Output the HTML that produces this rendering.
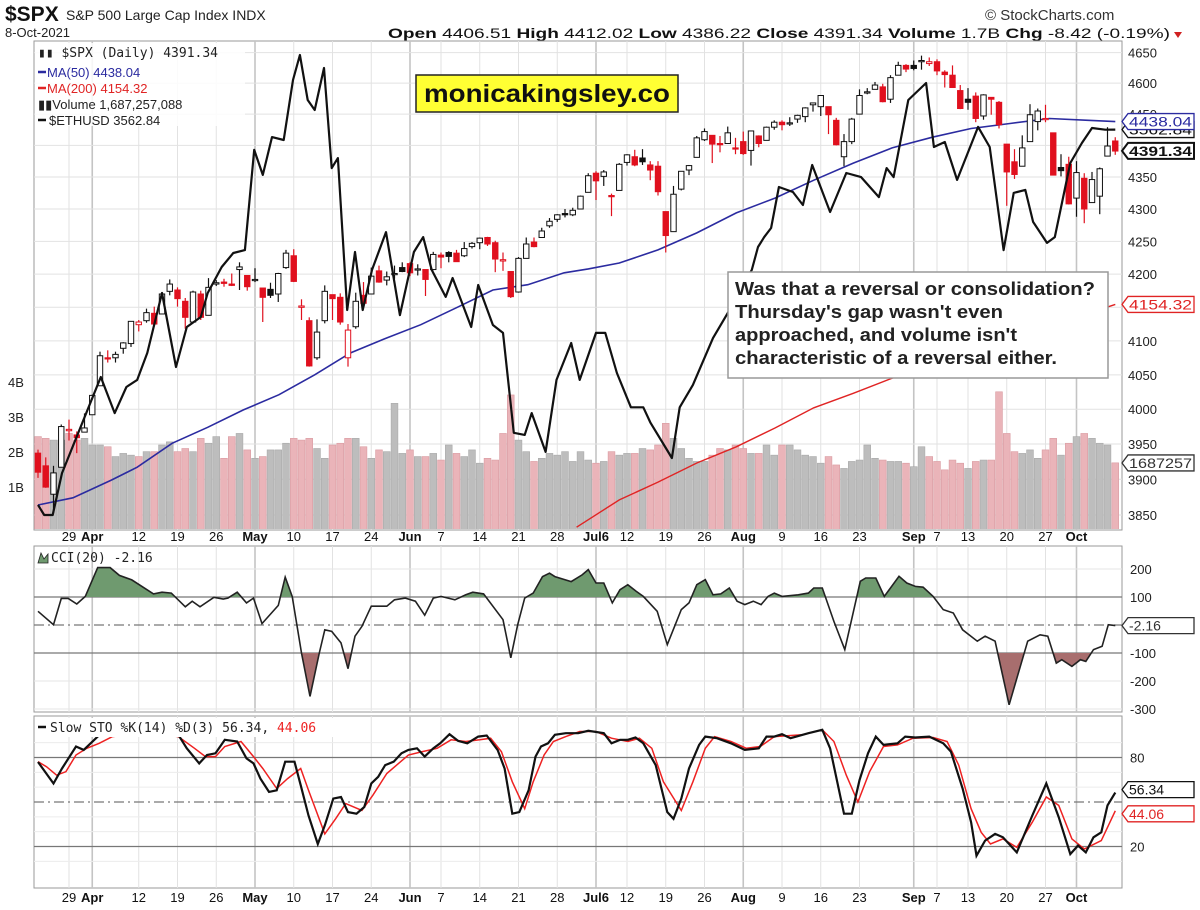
<!DOCTYPE html>
<html><head><meta charset="utf-8">
<style>
html,body{margin:0;padding:0;background:#fff;}
svg{display:block;font-family:"Liberation Sans",Arial,sans-serif;}
</style></head>
<body>
<svg id="chart" width="1200" height="910" viewBox="0 0 1200 910" xmlns="http://www.w3.org/2000/svg">
  <rect x="0" y="0" width="1200" height="910" fill="#fff"/>
  <defs>
    <clipPath id="clipMain"><rect x="34" y="42" width="1087" height="487"/></clipPath>
    <clipPath id="clipCci"><rect x="34" y="547" width="1087" height="164"/></clipPath>
    <clipPath id="clipSto"><rect x="34" y="717" width="1087" height="170"/></clipPath>
    <clipPath id="clipCciUp"><rect x="34" y="547" width="1087" height="50"/></clipPath>
    <clipPath id="clipCciDn"><rect x="34" y="653" width="1087" height="60"/></clipPath>
  </defs>
  <g id="header">
    <text x="5" y="21" font-size="21" font-weight="bold" fill="#111">$SPX</text>
    <text x="66" y="20" font-size="14" fill="#222">S&amp;P 500 Large Cap Index INDX</text>
    <text x="5" y="37" font-size="13" fill="#222">8-Oct-2021</text>
    <text x="388" y="38" font-size="14" fill="#111" textLength="782" lengthAdjust="spacingAndGlyphs"><tspan font-weight="bold">Open</tspan> 4406.51 <tspan font-weight="bold">High</tspan> 4412.02 <tspan font-weight="bold">Low</tspan> 4386.22 <tspan font-weight="bold">Close</tspan> 4391.34 <tspan font-weight="bold">Volume</tspan> 1.7B <tspan font-weight="bold">Chg</tspan> -8.42 (-0.19%)</text>
    <polygon points="1174,32 1182,32 1178,38" fill="#d02020"/>
    <text x="985" y="20" font-size="15" fill="#333">© StockCharts.com</text>
  </g>
  <g id="grid"></g>
  <g id="mainG" clip-path="url(#clipMain)"></g>
  <g id="cciG"></g>
  <g id="stoG"></g>
  <g id="overlay"></g>
</svg>
<script>
// ---------- DATA ----------
const closes = [3910,3889,3909,3975,3971,3959,3973,4020,4078,4074,4080,4097,4129,4128,4142,4125,4170,4185,4163,4135,4173,4135,4180,4187,4186,4183,4211,4181,
4192,4165,4168,4201,4232,4189,4152,4063,4113,4174,4163,4128,4116,4159,4156,4197,4188,4196,4201,4204,
4202,4208,4192,4230,4226,4227,4219,4239,4247,4255,4246,4223,4222,4166,4224,4246,4242,4266,4281,4291,4291,4298,
4320,4352,4344,4358,4320,4370,4385,4369,4374,4361,4327,4259,4323,4359,4368,4412,4422,4402,4401,4420,4395,
4387,4423,4403,4429,4437,4433,4436,4448,4460,4468,4480,4449,4401,4406,4442,4480,4486,4497,4470,4509,4529,4523,
4524,4537,4535,4520,4514,4493,4459,4469,4443,4481,4474,4433,4358,4354,4396,4449,4455,4443,4353,4360,4308,4357,4300,4346,4363,4399,4391];
const opens = [3937,3919,3879,3917,3969,3963,3967,3992,4034,4075,4075,4089,4096,4124,4130,4141,4140,4174,4176,4159,4128,4170,4138,4185,4188,4185,4207,4198,
4192,4179,4177,4170,4210,4228,4150,4130,4075,4130,4169,4165,4075,4121,4168,4170,4205,4191,4201,4210,
4216,4207,4207,4207,4229,4233,4232,4228,4242,4248,4256,4248,4220,4204,4173,4224,4249,4256,4274,4284,4293,4291,
4300,4326,4356,4351,4321,4329,4373,4382,4380,4369,4367,4296,4265,4331,4361,4381,4409,4416,4403,4403,4396,
4406,4392,4415,4408,4429,4437,4435,4442,4446,4465,4462,4462,4440,4382,4406,4450,4484,4490,4494,4474,4513,4529,
4529,4535,4532,4535,4518,4513,4488,4474,4479,4447,4477,4469,4402,4374,4367,4406,4438,4442,4420,4365,4370,4317,4348,4310,4320,4383,4407];
const highs = [3942,3931,3919,3978,3985,3968,3994,4021,4084,4086,4084,4098,4129,4131,4148,4151,4173,4192,4180,4164,4175,4175,4194,4191,4193,4201,4218,4198,
4209,4179,4187,4202,4237,4238,4162,4135,4132,4183,4169,4171,4125,4172,4188,4210,4213,4204,4213,4218,
4218,4215,4207,4234,4233,4235,4237,4249,4249,4256,4257,4251,4233,4204,4226,4256,4256,4271,4286,4292,4300,4302,
4321,4356,4359,4361,4324,4372,4386,4393,4394,4375,4375,4296,4336,4359,4369,4415,4427,4416,4415,4430,4412,
4422,4423,4416,4430,4440,4440,4445,4449,4461,4468,4480,4462,4444,4418,4444,4490,4492,4502,4499,4513,4535,4531,
4537,4545,4542,4539,4521,4529,4497,4492,4485,4482,4477,4471,4402,4394,4416,4466,4459,4465,4420,4386,4382,4375,4356,4358,4365,4429,4413];
const lows = [3902,3888,3853,3917,3955,3937,3967,3992,4034,4068,4068,4081,4091,4114,4127,4123,4140,4168,4151,4118,4128,4131,4138,4182,4181,4182,4176,4175,
4188,4128,4164,4158,4208,4188,4131,4062,4072,4126,4131,4124,4062,4118,4152,4170,4187,4183,4193,4203,
4197,4198,4167,4206,4209,4218,4219,4226,4239,4238,4243,4203,4205,4164,4172,4224,4241,4256,4271,4280,4287,4289,
4300,4326,4314,4336,4289,4329,4368,4367,4369,4345,4321,4233,4265,4329,4353,4381,4407,4372,4389,4403,4386,
4385,4368,4397,4408,4425,4424,4431,4436,4437,4454,4447,4418,4400,4367,4402,4450,4482,4490,4469,4468,4513,4518,
4521,4522,4528,4513,4493,4493,4458,4457,4437,4441,4449,4427,4305,4347,4367,4406,4424,4437,4353,4351,4307,4288,4278,4310,4292,4383,4385];
const prevClose = 3940;
const volumesB = [2.44,2.39,2.34,2.34,2.53,2.34,2.39,2.20,2.20,2.15,
1.87,1.96,1.91,1.87,2.01,2.01,2.20,2.29,2.01,2.10,
2.01,2.39,2.25,2.44,1.82,2.44,2.53,2.06,1.82,1.87,
2.06,2.06,2.25,2.39,2.34,2.39,2.10,1.82,2.20,2.25,
2.39,2.39,2.15,1.82,2.06,2.01,3.39,1.96,2.06,1.87,
1.87,1.96,1.77,2.20,1.96,1.87,2.06,1.68,1.82,1.77,
2.53,3.63,2.34,2.01,1.73,1.82,1.96,1.91,2.01,1.73,
2.01,1.77,1.68,1.73,2.01,1.91,1.96,1.96,2.10,2.06,
2.20,2.82,2.39,2.10,1.82,1.73,1.73,1.91,2.10,2.06,
2.20,2.10,1.96,1.96,2.20,1.91,2.20,2.20,2.06,1.91,
1.87,1.68,1.87,1.63,1.53,1.73,1.77,2.20,1.82,1.77,
1.73,1.73,1.68,1.58,2.15,1.87,1.73,1.49,1.77,1.68,
1.53,1.73,1.77,1.77,3.72,2.53,2.01,1.96,2.06,1.82,
2.06,2.39,1.91,2.25,2.44,2.53,2.39,2.25,2.20,1.69];
const ma50Idx = [0,4.5,9.5,12.8,17.3,21.9,26.5,31.1,35.7,40.3,44.9,49.4,54.1,58.7,63.2,67.9,71,75,80,85,90.1,95.1,100.1,105.2,110.2,115.4,120.4,125.4,130.5,135.5,139];
const ma50Val = [3864,3874,3899,3917,3951,3974,3999,4021,4050,4082,4104,4124,4150,4176,4184,4202,4208,4217,4237,4263,4294,4317,4345,4372,4396,4413,4427,4435,4443,4440,4438.04];
const ma200Idx = [69.5,75,80,85,90.1,95.1,100.1,105.2,110.2,139];
const ma200Val = [3833,3871,3896,3923,3946,3973,4002,4023,4045,4154.32];
const ethIdx = [0,0.8,1.9,3.1,8.1,9.9,11.4,12.8,14.1,16.0,17.8,19.2,21.0,21.9,23.7,25.2,26.7,27.9,29.0,30.2,31.7,32.9,33.8,34.8,35.7,36.9,37.9,38.7,39.9,40.9,41.9,43.1,44.9,46.7,48.5,49.7,50.8,52.6,53.5,55.9,56.8,58.7,60.0,61.4,62.8,63.7,65.5,66.9,68.8,69.9,72.0,73.2,74.7,76.5,78.1,79.0,81.8,82.8,84.5,87.1,89.0,92.1,92.9,93.7,94.6,95.6,97.4,98.7,99.9,102.2,104.3,106.2,108.5,109.5,110.4,112.3,114.6,115.6,117.0,118.6,121.3,122.8,124.6,125.9,127.4,128.4,130.2,131.2,133.2,134.7,136.0,137.7,139];
const ethVal = [1614,1580,1580,1726,2114,1959,2070,2101,2224,2524,2159,2349,2399,2524,2666,2746,2763,3413,3238,3507,3485,3956,4170,3792,3713,4057,3285,3355,2435,2752,2435,2650,2870,2409,2752,2840,2650,2503,2605,2349,2567,2359,2320,1879,1871,1959,1805,2101,2271,2101,2320,2320,2132,1983,1983,1921,1782,1983,2079,2295,2420,2650,2781,2840,2895,3156,3123,3039,3306,2994,3251,3223,3090,3285,3223,3792,3931,3434,3471,3204,3583,3434,2763,3117,3137,2932,2805,2840,3320,3463,3575,3562,3562.84];
const cciIdx = [0,2.0,3.0,3.9,5.0,6.1,7.7,9.3,10.5,12.1,14.9,16.0,17.2,19.0,19.9,20.9,22.7,23.9,24.5,25.7,26.9,27.8,28.9,31.0,31.9,32.8,34.0,35.1,36.3,37.0,37.9,39.1,40.0,40.9,41.8,43.0,45.0,46.0,47.4,48.7,49.9,51.0,52.0,53.8,55.2,56.1,57.5,60.0,61.0,61.9,62.8,63.9,65.1,66.0,66.7,68.8,70.2,71.0,72.0,73.0,74.1,75.1,76.1,77.2,78.1,79.9,81.2,83.0,84.0,85.0,86.1,87.1,88.1,89.2,90.2,91.2,92.3,93.3,94.2,95.0,96.0,98.1,99.4,100.1,101.2,102.7,104.1,106.1,106.8,108.1,109.2,111.1,112.1,113.2,114.2,115.5,116.8,118.1,119.3,121.2,122.2,123.5,125.3,127.7,129.3,130.3,131.4,132.1,133.4,134.5,135.2,136.2,137.3,138.1,139];
const cciVal = [49,1,95,95,75,102,205,205,177,161,111,117,114,65,85,65,99,93,96,117,79,96,5,70,171,102,-100,-255,-100,-17,-23,-64,-156,-40,-5,67,67,90,96,85,35,96,102,90,108,117,111,19,-117,1,96,114,173,185,173,155,179,198,150,150,79,126,144,120,102,49,-70,55,79,144,162,108,111,132,85,73,85,73,102,114,102,108,114,132,132,13,-88,156,168,168,102,174,150,138,135,102,55,43,-17,-58,-40,-58,-285,-58,-35,-40,-136,-124,-148,-124,-130,-88,-76,1,-2.16];
const stoKIdx = [0,2,3.1,4.9,5.9,7.7,8.9,12,15,18.1,19.2,20.8,21.8,22.9,24.1,25.7,26.9,27.8,28.7,29.8,30.8,31.9,33.1,33.9,34.9,36.1,37,38.1,39.1,40,41.1,42.1,43,43.9,44.8,45.9,46.9,47.8,48.9,49.9,51,51.9,53.1,54.2,55.4,56.8,57.9,59.3,60.2,61.2,62.1,63.3,64.2,64.9,65.8,66.7,68.1,69.7,71,73,74,75.1,76.1,77.1,78.1,79.7,81.2,82,83,84,85.3,86.1,87.6,89.4,91.2,93,94,95,96,97.1,99.4,101.2,102.2,104,105,106,107.1,108.1,109.1,110.9,111.9,113.2,115,116.8,117.8,119.3,120.4,121.1,122.2,123.5,124.5,126.3,128.3,130.1,131.7,133.2,134.2,135.2,136.2,137.2,138,139];
const stoKVal = [77,62.5,72.6,87.4,85.1,94.1,99.8,99,97,95.3,86.2,76,81.7,82.8,91.9,90.8,79.4,76,65.8,56.8,57.9,77.2,77.2,61.3,40.9,21.7,34.2,52.3,53.4,43.2,42.1,46.6,62.5,67,74.9,77.2,82.8,85.1,86.2,80.6,86.2,89.6,95.7,91.2,89.6,94.1,94.8,85.1,72.6,42.1,43.2,57.9,80.6,87.4,89.6,95.3,96.4,96.4,98,96.4,89.6,91.9,91.9,93.5,89.6,74.9,43.2,38.7,52.3,72.6,88.5,94.1,93,89.6,85.1,86.2,94.1,94.1,95.7,93,96.4,98.7,86.2,42.1,42.1,64.7,82.8,94.1,88.5,89.6,94.1,93.5,94.1,89.6,84,59.1,36.4,13.8,24,28.5,26.2,16,40.9,62.5,39.8,14.9,20.6,16,26.2,29.6,47.7,56.34];
const stoDIdx = [0,1.1,2.4,3.6,4.9,6.3,7.9,9.6,14,18.1,20.2,21.6,22.9,24.1,26.2,27.8,29,30.8,32.2,33.9,34.9,37,38.4,39.7,41.8,43.2,45,47.8,49.6,51.5,53.3,55.2,57,58.4,59.8,61.2,62.8,63.9,65.3,66.5,68.1,69.9,72,74,76.1,77.6,79.2,80.7,83,84.5,86.1,87.3,89.4,91.4,93.2,95,98.6,101.2,102.7,104.3,105.8,107.3,109.1,110.9,112.9,115.5,117.3,118.8,120.4,121.7,122.9,124.5,126.3,128.3,130.1,131.7,133.4,135,137.2,139];
const stoDVal = [77.2,73.8,68.1,70.4,81.7,86.2,89.6,94.1,97,94.1,86.2,80.6,80.6,87.4,90.8,80.6,72.6,59.1,65.8,72.6,57.9,28.5,38.7,48.9,44.3,54.5,69.2,81.7,84,86.2,91.9,90.8,91.9,93,84,63.6,45.5,63.6,81.7,90.8,94.1,97.5,97.5,93,90.8,93,86.2,63.6,44.3,63.6,86.2,94.1,90.8,86.2,87.4,94.1,95.3,98.7,90.8,68.1,50,70.4,87.4,88.5,93,93.5,90.8,74.9,45.5,29.6,21.7,25.1,19.4,36.4,53.4,47.7,25.1,18.3,24,44.06];
const priceTickVals = [3850,3900,3950,4000,4050,4100,4200,4250,4300,4350];
const priceGridVals = [3850,3900,3950,4000,4050,4100,4150,4200,4250,4300,4350,4400,4450,4500,4550];
const upperTickLabels = ['4650','4600','4450'];
const upperTickVals = [4550,4500,4450];
const volTickVals = [1,2,3,4];
const cciTickVals = [200,100,-100,-200,-300];
const stoTickVals = [80,20];
const dateIdx = [4,7,13,18,23,28,33,38,43,48,52,57,62,67,72,76,81,86,91,96,101,106,113,116,120,125,130,134];
const dateText = ['29','Apr','12','19','26','May','10','17','24','Jun','7','14','21','28','Jul6','12','19','26','Aug','9','16','23','Sep','7','13','20','27','Oct'];
const dateIsMonth = [0,1,0,0,0,1,0,0,0,1,0,0,0,0,1,0,0,0,1,0,0,0,1,0,0,0,0,1];

// ---------- SCALES ----------
const NS = 'http://www.w3.org/2000/svg';
const X0 = 38, DX = 7.75;
function xOf(i){ return X0 + i*DX; }
function yP(v){ return 515 - 2768*Math.log(v/3850); }
function yE(v){ return 515 - 474*Math.log(v/1580); }
function yV(b){ return 522 - b*35; }
function yC(v){ return 625 - v*0.28; }
function yS(v){ return 802 - (v-50)*(89/60); }
function mk(tag, parent){ const e = document.createElementNS(NS, tag); parent.appendChild(e); return e; }
function setA(e, o){ for (const k in o) e.setAttribute(k, o[k]); return e; }

const grid = document.getElementById('grid');
const mainG = document.getElementById('mainG');
const cciG = document.getElementById('cciG');
const stoG = document.getElementById('stoG');
const overlay = document.getElementById('overlay');

// ---------- GRID & PANELS ----------
const panels = [[34,41,1088,489,'main-panel'],[34,546,1088,166,'cci-panel'],[34,716,1088,172,'sto-panel']];
panels.forEach(p => {
  const r = mk('rect', grid);
  setA(r, {x:p[0], y:p[1], width:p[2], height:p[3], fill:'#fff', stroke:'#9a9a9a', 'stroke-width':1});
  
  
});
dateIdx.forEach((d, k) => {
  const x = xOf(d);
  [[41,530],[546,712],[716,888]].forEach(seg => {
    const l = mk('line', grid);
    setA(l, {x1:x, x2:x, y1:seg[0], y2:seg[1], stroke: dateIsMonth[k] ? '#c4c4c4' : '#e2e2e2', 'stroke-width': dateIsMonth[k] ? 1.6 : 1});
    
    
  });
  [541, 902].forEach(yy => {
    const t = mk('text', grid);
    setA(t, {x:x, y:yy, 'font-size':13, 'text-anchor':'middle', fill:'#111', 'font-weight': dateIsMonth[k] ? 'bold' : 'normal'});
    t.textContent = dateText[k];
    
    
  });
});
priceGridVals.forEach(v => {
  const l = mk('line', grid);
  setA(l, {x1:34, x2:1122, y1:yP(v), y2:yP(v), stroke:'#e2e2e2', 'stroke-width':1});
  
  
});
priceTickVals.forEach(v => {
  const t = mk('text', grid);
  setA(t, {x:1128, y:yP(v)+5, 'font-size':13, fill:'#222'});
  t.textContent = v;
  
  
});
upperTickVals.forEach((v, k) => {
  const t = mk('text', grid);
  setA(t, {x:1128, y:yP(v)+5, 'font-size':13, fill:'#222'});
  t.textContent = upperTickLabels[k];
  
  
});
volTickVals.forEach(v => {
  const t = mk('text', grid);
  setA(t, {x:8, y:yV(v)+5, 'font-size':13, fill:'#222'});
  t.textContent = v + 'B';
  
  
});

// ---------- VOLUME ----------
volumesB.forEach((b, i) => {
  const pc = i === 0 ? prevClose : closes[i-1];
  const down = closes[i] < pc;
  const r = mk('rect', mainG);
  setA(r, {x:xOf(i)-3.4, y:yV(b), width:6.8, height:530-yV(b), fill: down ? '#eab4b9' : '#bdbdbd', stroke: down ? '#d99aa0' : '#a8a8a8', 'stroke-width':0.6});
  
  
});

// ---------- LINES ----------
function linePath(idx, vals, yf){ return idx.map((d,k) => (k ? 'L' : 'M') + xOf(d).toFixed(1) + ',' + yf(vals[k]).toFixed(1)).join(''); }
const ma200 = mk('path', mainG);
setA(ma200, {d: linePath(ma200Idx, ma200Val, yP), fill:'none', stroke:'#e02424', 'stroke-width':1.4});


const ma50 = mk('path', mainG);
setA(ma50, {d: linePath(ma50Idx, ma50Val, yP), fill:'none', stroke:'#2b2ba0', 'stroke-width':1.6});



// ---------- CANDLES ----------
closes.forEach((c, i) => {
  const o = opens[i];
  const pc = i === 0 ? prevClose : closes[i-1];
  const col = c < pc ? '#e0101e' : '#111';
  const x = xOf(i);
  const w = mk('line', mainG);
  setA(w, {x1:x, x2:x, y1:yP(highs[i]), y2:yP(lows[i]), stroke:col, 'stroke-width':1.2});
  
  
  const top = yP(Math.max(o,c)), bot = yP(Math.min(o,c));
  const b = mk('rect', mainG);
  setA(b, {x:x-2.7, y:top, width:5.4, height:Math.max(1.2, bot-top), fill: c >= o ? '#fff' : col, stroke:col, 'stroke-width':1});
  
  
});

const eth = mk('path', mainG);
setA(eth, {d: linePath(ethIdx, ethVal, yE), fill:'none', stroke:'#111', 'stroke-width':2.2, 'stroke-linejoin':'round'});



// ---------- CCI ----------
[100, -100].forEach(v => {
  const l = mk('line', cciG);
  setA(l, {x1:34, x2:1122, y1:yC(v), y2:yC(v), stroke:'#777', 'stroke-width':1.2});
  
  
});
[200, -200, -300].forEach(v => {
  const l = mk('line', cciG);
  setA(l, {x1:34, x2:1122, y1:yC(v), y2:yC(v), stroke:'#e6e6e6', 'stroke-width':1});
  
  
});
const cz = mk('line', cciG);
setA(cz, {x1:34, x2:1122, y1:yC(0), y2:yC(0), stroke:'#777', 'stroke-width':1.2, 'stroke-dasharray':'10,4,2,4'});


const cciD = linePath(cciIdx, cciVal, yC);
const cciLast = xOf(cciIdx[cciIdx.length-1]), cciFirst = xOf(cciIdx[0]);
const up = mk('path', cciG);
setA(up, {d: cciD + 'L' + cciLast + ',' + yC(100) + 'L' + cciFirst + ',' + yC(100) + 'Z', fill:'#6f9a6f', 'clip-path':'url(#clipCciUp)'});


const dn = mk('path', cciG);
setA(dn, {d: cciD + 'L' + cciLast + ',' + yC(-100) + 'L' + cciFirst + ',' + yC(-100) + 'Z', fill:'#a86e6e', 'clip-path':'url(#clipCciDn)'});


const cl = mk('path', cciG);
setA(cl, {d: cciD, fill:'none', stroke:'#222', 'stroke-width':1.6, 'clip-path':'url(#clipCci)'});


cciTickVals.forEach(v => {
  const t = mk('text', cciG);
  setA(t, {x:1130, y:yC(v)+5, 'font-size':13, fill:'#222'});
  t.textContent = v;
  
  
});

// ---------- STO ----------
[90,70,60,40,30,10].forEach(v => {
  const l = mk('line', stoG);
  setA(l, {x1:34, x2:1122, y1:yS(v), y2:yS(v), stroke:'#ececec', 'stroke-width':1});
  
  
});
stoTickVals.forEach(v => {
  const l = mk('line', stoG);
  setA(l, {x1:34, x2:1122, y1:yS(v), y2:yS(v), stroke:'#777', 'stroke-width':1.2});
  
  
  const t = mk('text', stoG);
  setA(t, {x:1130, y:yS(v)+5, 'font-size':13, fill:'#222'});
  t.textContent = v;
  
  
});
const sm = mk('line', stoG);
setA(sm, {x1:34, x2:1122, y1:yS(50), y2:yS(50), stroke:'#777', 'stroke-width':1.2, 'stroke-dasharray':'10,4,2,4'});


const sd = mk('path', stoG);
setA(sd, {d: linePath(stoDIdx, stoDVal, yS), fill:'none', stroke:'#ee2222', 'stroke-width':1.5, 'clip-path':'url(#clipSto)'});


const sk = mk('path', stoG);
setA(sk, {d: linePath(stoKIdx, stoKVal, yS), fill:'none', stroke:'#111', 'stroke-width':2.2, 'clip-path':'url(#clipSto)'});



// ---------- RIGHT VALUE TAGS ----------
function tag(y, txt, col, bold, name){
  const g = mk('g', overlay);
  
  
  const p = mk('path', g);
  setA(p, {d:'M1122,'+y+' L1128,'+(y-8)+' L1194,'+(y-8)+' L1194,'+(y+8)+' L1128,'+(y+8)+' Z', fill:'#fff', stroke:col, 'stroke-width': bold ? 2 : 1.3});
  const t = mk('text', g);
  setA(t, {x:1129, y:y+5, 'font-size':14, fill:col, 'font-weight': bold ? 'bold' : 'normal'});
  if (txt.length >= 7) { t.setAttribute('textLength', 63); t.setAttribute('lengthAdjust', 'spacingAndGlyphs'); }
  t.textContent = txt;
}
tag(yE(3562.84), '3562.84', '#111', false, 'ethusd-value-tag');
tag(yP(4438.04), '4438.04', '#2b2ba0', false, 'ma50-value-tag');
tag(yP(4391.34), '4391.34', '#111', true, 'close-value-tag');
tag(yP(4154.32), '4154.32', '#e02424', false, 'ma200-value-tag');
tag(yV(1.687), '1687257', '#333', false, 'volume-value-tag');
tag(yC(-2.16), '-2.16', '#333', false, 'cci-value-tag');
tag(yS(56.34)-3, '56.34', '#111', false, 'sto-k-value-tag');
tag(yS(44.06)+3, '44.06', '#e02424', false, 'sto-d-value-tag');
</script>
<script>
// ---------- ANNOTATIONS & LEGENDS (on top) ----------
(function(){
  const NS = 'http://www.w3.org/2000/svg';
  const svg = document.getElementById('chart');
  const g = document.createElementNS(NS, 'g');
  svg.appendChild(g);
  g.innerHTML =
  '<rect x="416" y="75" width="262" height="37" fill="#ffff33" stroke="#222" stroke-width="1.5"/>' +
  '<text x="547" y="102" font-size="25" font-weight="bold" text-anchor="middle" fill="#111" textLength="246" lengthAdjust="spacingAndGlyphs">monicakingsley.co</text>' +
  '<rect x="728" y="272" width="380" height="106" fill="#fff" stroke="#999" stroke-width="1.5"/>' +
  '<g font-size="18" font-weight="bold" fill="#222">' +
  '<text x="735" y="295" textLength="360" lengthAdjust="spacingAndGlyphs">Was that a reversal or consolidation?</text>' +
  '<text x="735" y="318" textLength="268" lengthAdjust="spacingAndGlyphs">Thursday\'s gap wasn\'t even</text>' +
  '<text x="735" y="341" textLength="282" lengthAdjust="spacingAndGlyphs">approached, and volume isn\'t</text>' +
  '<text x="735" y="364" textLength="322" lengthAdjust="spacingAndGlyphs">characteristic of a reversal either.</text></g>' +
  '<g>' +
  '<rect x="35" y="43" width="210" height="83" fill="#fff" opacity="0.85"/>' +
  '<text x="38" y="57" font-size="13" font-family="DejaVu Sans Mono, monospace" fill="#222">▮▮ $SPX (Daily) 4391.34</text>' +
  '<line x1="38" y1="72" x2="46" y2="72" stroke="#2b2ba0" stroke-width="2.5"/><text x="47" y="77" font-size="13" fill="#2b2ba0">MA(50) 4438.04</text>' +
  '<line x1="38" y1="88" x2="46" y2="88" stroke="#e02424" stroke-width="2.5"/><text x="47" y="93" font-size="13" fill="#e02424">MA(200) 4154.32</text>' +
  '<text x="38" y="109" font-size="13" fill="#222">▮▮Volume 1,687,257,088</text>' +
  '<line x1="38" y1="120" x2="46" y2="120" stroke="#111" stroke-width="2.5"/><text x="49" y="125" font-size="13" fill="#222">$ETHUSD 3562.84</text></g>' +
  '<g><polygon points="38,563 41,553 44,559 48,554 48,563" fill="#6f9a6f" stroke="#222" stroke-width="0.8"/>' +
  '<text x="51" y="562" font-size="13" font-family="DejaVu Sans Mono, monospace" fill="#222">CCI(20) -2.16</text></g>' +
  '<g><rect x="35" y="718" width="330" height="19" fill="#fff"/>' +
  '<line x1="38" y1="727" x2="46" y2="727" stroke="#111" stroke-width="2.5"/>' +
  '<text x="50" y="732" font-size="13" font-family="DejaVu Sans Mono, monospace" fill="#222">Slow STO %K(14) %D(3) 56.34, <tspan fill="#ee2222">44.06</tspan></text></g>';
})();
</script>
</body></html>
